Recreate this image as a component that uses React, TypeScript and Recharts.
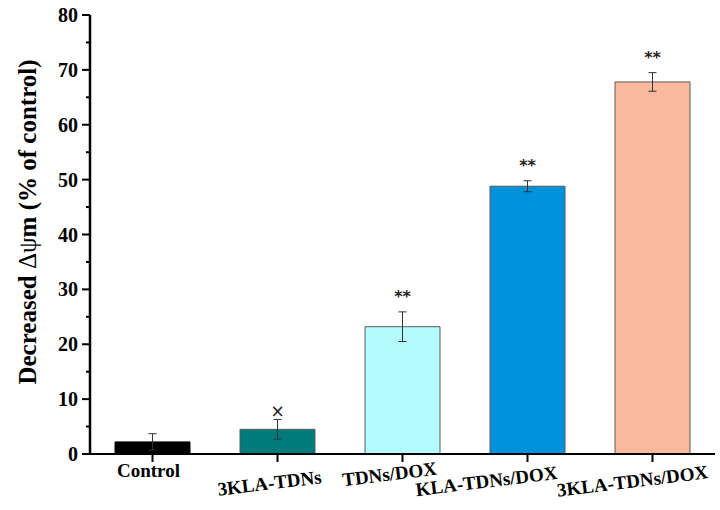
import React from 'react';
import { BarChart, Bar, XAxis, YAxis, Cell, ErrorBar, LabelList } from 'recharts';

const groups = ['Control', '3KLA-TDNs', 'TDNs/DOX', 'KLA-TDNs/DOX', '3KLA-TDNs/DOX'];
const decreased = [2.2, 4.5, 23.2, 48.8, 67.8];
const errors = [1.5, 1.8, 2.7, 1.0, 1.7];
const marks = ['', '×', '**', '**', '**'];
const barColors = ['#000000', '#007b7b', '#b3fbfc', '#0091db', '#f8b99c'];
const yTicks = [0, 5, 10, 15, 20, 25, 30, 35, 40, 45, 50, 55, 60, 65, 70, 75, 80];

const data = groups.map((g, i) => ({ group: g, value: decreased[i], err: errors[i], mark: marks[i] }));

const serif = { fontFamily: '"Liberation Serif", "DejaVu Serif", serif', fontWeight: 700 };

// where each rotated category label sits relative to its tick
const labelShift = [
  { dx: -4, dy: 8, angle: 0 },
  { dx: -8, dy: 21, angle: -7 },
  { dx: -13, dy: 12, angle: -7 },
  { dx: -41, dy: 19, angle: -7 },
  { dx: -20, dy: 19, angle: -7 },
];

const XTick = ({ x, y, payload, index }: any) => {
  const s = labelShift[index] || { dx: 0, dy: 8, angle: 0 };
  const cx = x + s.dx;
  const cy = y + s.dy;
  return (
    <text
      x={cx}
      y={cy}
      textAnchor="middle"
      dominantBaseline="central"
      transform={`rotate(${s.angle}, ${cx}, ${cy})`}
      style={{ ...serif, fontSize: 19 }}
      fill="#000"
    >
      {payload.value}
    </text>
  );
};

const YTick = ({ x, y, payload }: any) => {
  const major = payload.value % 10 === 0;
  return (
    <g>
      <line x1={x - (major ? 8 : 4)} x2={x} y1={y} y2={y} stroke="#000" strokeWidth={2} />
      {major && (
        <text x={x - 12} y={y} textAnchor="end" dominantBaseline="central" style={{ ...serif, fontSize: 20 }} fill="#000">
          {payload.value}
        </text>
      )}
    </g>
  );
};

const MarkLabel = ({ x, y, width, height, value, index }: any) => {
  if (!value) return null;
  const d = data[index];
  const pxPerUnit = height / d.value;
  const top = y - d.err * pxPerUnit;
  const isStar = value === '**';
  return (
    <text
      x={x + width / 2}
      y={top - (isStar ? 15 : 8)}
      textAnchor="middle"
      dominantBaseline="central"
      style={{ fontFamily: '"DejaVu Sans", sans-serif', fontSize: isStar ? 16 : 17, fontWeight: isStar ? 700 : 400 }}
      fill="#222"
    >
      {value}
    </text>
  );
};

const YLabel = () => (
  <text
    x={27}
    y={222}
    textAnchor="middle"
    dominantBaseline="central"
    transform="rotate(-90, 27, 222)"
    style={{ ...serif, fontSize: 25 }}
    fill="#000"
  >
    <tspan>Decreased </tspan>
    <tspan style={{ fontWeight: 400 }}>Δψ</tspan>
    <tspan>m (% of control)</tspan>
  </text>
);

export default function App() {
  return (
    <div style={{ position: 'absolute', left: 0, top: 0, background: '#fff' }}>
      <BarChart width={720} height={510} data={data} margin={{ top: 15, right: 5, bottom: 0, left: 0 }} barCategoryGap="20%">
        <XAxis
          dataKey="group"
          height={56}
          interval={0}
          tickSize={8}
          tickMargin={0}
          stroke="#000"
          strokeWidth={2}
          tickLine={{ stroke: '#000', strokeWidth: 2 }}
          tick={<XTick />}
        />
        <XAxis xAxisId="top" dataKey="group" orientation="top" height={0} tick={false} tickLine={false} stroke="#000" strokeWidth={2} />
        <YAxis
          width={90}
          domain={[0, 80]}
          ticks={yTicks}
          interval={0}
          tickSize={0}
          tickMargin={0}
          tickLine={false}
          stroke="#000"
          strokeWidth={2.5}
          tick={<YTick />}
          label={<YLabel />}
        />
        <YAxis yAxisId="right" orientation="right" width={0} domain={[0, 80]} tick={false} tickLine={false} stroke="#000" strokeWidth={2} />
        <Bar dataKey="value" isAnimationActive={false} stroke="#5a5a5a" strokeWidth={1}>
          {data.map((d, i) => (
            <Cell key={d.group} fill={barColors[i]} stroke={i === 0 ? '#000' : '#5a5a5a'} />
          ))}
          <ErrorBar dataKey="err" width={4} stroke="#333" strokeWidth={1} isAnimationActive={false} />
          <LabelList dataKey="mark" content={<MarkLabel />} />
        </Bar>
      </BarChart>
    </div>
  );
}
